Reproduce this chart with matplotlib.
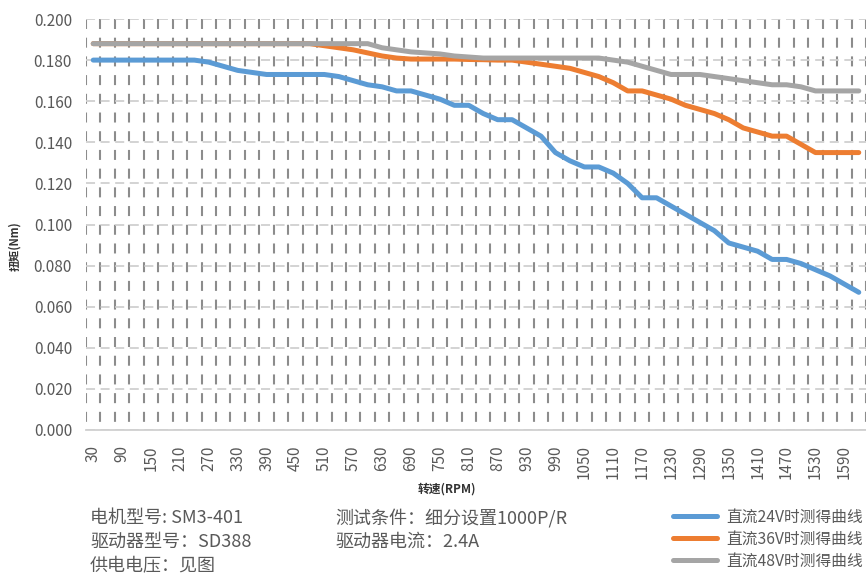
import numpy as np
import matplotlib
matplotlib.use("Agg")
import matplotlib.pyplot as plt
from matplotlib.lines import Line2D

plt.rcParams['font.family'] = ['Noto Sans CJK SC', 'DejaVu Sans']
plt.rcParams['lines.scale_dashes'] = False

# speed categories (RPM)
speeds = list(range(30, 1621, 30))

torque_24v = [0.180, 0.180, 0.180, 0.180, 0.180, 0.180, 0.180, 0.180, 0.179, 0.177,
              0.175, 0.174, 0.173, 0.173, 0.173, 0.173, 0.173, 0.172, 0.170, 0.168,
              0.167, 0.165, 0.165, 0.163, 0.161, 0.158, 0.158, 0.154, 0.151, 0.151,
              0.147, 0.143, 0.135, 0.131, 0.128, 0.128, 0.125, 0.120, 0.113, 0.113,
              0.109, 0.105, 0.101, 0.097, 0.091, 0.089, 0.087, 0.083, 0.083, 0.081,
              0.078, 0.075, 0.071, 0.067]

torque_36v = [0.188, 0.188, 0.188, 0.188, 0.188, 0.188, 0.188, 0.188, 0.188, 0.188,
              0.188, 0.188, 0.188, 0.188, 0.188, 0.188, 0.187, 0.186, 0.185, 0.1835,
              0.182, 0.181, 0.1805, 0.1805, 0.1805, 0.1805, 0.1803, 0.1802, 0.180, 0.180,
              0.179, 0.178, 0.177, 0.176, 0.174, 0.172, 0.169, 0.165, 0.165, 0.163,
              0.161, 0.158, 0.156, 0.154, 0.151, 0.147, 0.145, 0.143, 0.143, 0.139,
              0.135, 0.135, 0.135, 0.135]

torque_48v = [0.188, 0.188, 0.188, 0.188, 0.188, 0.188, 0.188, 0.188, 0.188, 0.188,
              0.188, 0.188, 0.188, 0.188, 0.188, 0.188, 0.188, 0.188, 0.188, 0.188,
              0.186, 0.185, 0.184, 0.1835, 0.183, 0.182, 0.1815, 0.181, 0.181, 0.181,
              0.181, 0.181, 0.181, 0.181, 0.181, 0.181, 0.180, 0.179, 0.177, 0.175,
              0.173, 0.173, 0.173, 0.172, 0.171, 0.170, 0.169, 0.168, 0.168, 0.167,
              0.165, 0.165, 0.165, 0.165]

series_labels = ['直流24V时测得曲线', '直流36V时测得曲线', '直流48V时测得曲线']
series_colors = ['#5B9BD5', '#ED7D31', '#A5A5A5']

info_left = ['电机型号: SM3-401', '驱动器型号：SD388', '供电电压：见图']
info_mid = ['测试条件：细分设置1000P/R', '驱动器电流：2.4A']

fig = plt.figure(figsize=(8.66, 5.74), dpi=100)
ax = fig.add_axes([86 / 866, 1 - 430 / 574, 780 / 866, 411 / 574])

x = np.arange(len(speeds))
for vals, col, lab in zip([torque_24v, torque_36v, torque_48v], series_colors, series_labels):
    ax.plot(x, vals, color=col, lw=3.6, solid_capstyle='round', solid_joinstyle='round',
            label=lab, zorder=3)

ax.set_xlim(-0.5, len(speeds) - 0.5)
ax.set_ylim(0, 0.2)
yt = np.arange(0, 0.2001, 0.02)
ax.set_yticks(yt)
ax.set_yticklabels(['%.3f' % v for v in yt])
ax.set_xticks(x[::2])
ax.set_xticklabels([str(s) for s in speeds[::2]], rotation=90)
ax.set_xticks(np.arange(-0.5, len(speeds), 1), minor=True)

ax.tick_params(axis='both', which='both', length=0, colors='#595959', labelsize=11)
ax.tick_params(axis='y', pad=10)
ax.tick_params(axis='x', pad=11)

# gridlines (dash lengths in points)
ax.grid(axis='y', which='major', color='#D0D0D0', lw=1.3, linestyle=(0, (6.5, 4.0)), zorder=0)
ax.grid(axis='x', which='minor', color='#8C8C8C', lw=1.5, linestyle=(7.6, (7.2, 6.27)), zorder=1)
ax.grid(axis='x', which='major', visible=False)

for side in ['top', 'right', 'left']:
    ax.spines[side].set_visible(False)
ax.spines['bottom'].set_color('#D0D0D0')
ax.spines['bottom'].set_linewidth(1.3)

fig.text(15 / 866, 1 - 246 / 574, '扭矩(Nm)', rotation=90, ha='center', va='center',
         fontsize=8, fontweight='bold', color='#333333')
fig.text(447 / 866, 1 - 489 / 574, '转速(RPM)', ha='center', va='center',
         fontsize=8.5, fontweight='bold', color='#333333')

for k, t in enumerate(info_left):
    fig.text(90 / 866, 1 - (518 + 24 * k) / 574, t, ha='left', va='center',
             fontsize=13, color='#595959')
for k, t in enumerate(info_mid):
    fig.text(335 / 866, 1 - (518 + 24 * k) / 574, t, ha='left', va='center',
             fontsize=13, color='#595959')

leg_handles = [Line2D([0], [0], color=c, lw=3.6, solid_capstyle='round') for c in series_colors]
fig.legend(leg_handles, series_labels, loc='center left',
           bbox_to_anchor=(673 / 866, 1 - 539 / 574), frameon=False,
           fontsize=11.3, labelcolor='#595959', handlelength=2.8, handletextpad=0.62,
           labelspacing=0.33, borderpad=0, borderaxespad=0)

fig.savefig('out.png', dpi=100)
